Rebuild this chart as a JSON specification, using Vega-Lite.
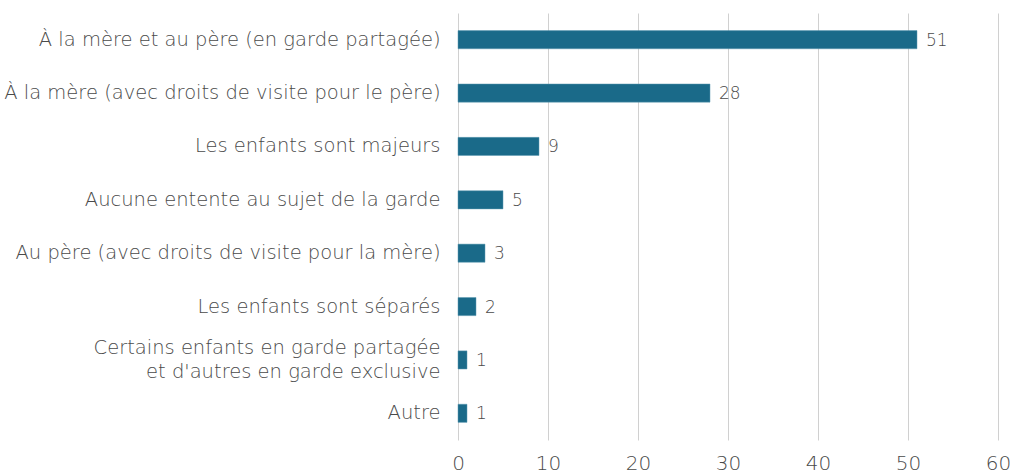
{
  "$schema": "https://vega.github.io/schema/vega-lite/v6.json",
  "width": 540,
  "height": 427,
  "autosize": "none",
  "padding": {"left": 458, "top": 13, "right": 15, "bottom": 34},
  "background": "white",
  "config": {
    "view": {"stroke": null},
    "font": "DejaVu Sans"
  },
  "data": {
    "values": [
      {"cat": "À la mère et au père (en garde partagée)", "v": 51},
      {"cat": "À la mère (avec droits de visite pour le père)", "v": 28},
      {"cat": "Les enfants sont majeurs ", "v": 9},
      {"cat": "Aucune entente au sujet de la garde", "v": 5},
      {"cat": "Au père (avec droits de visite pour la mère)", "v": 3},
      {"cat": "Les enfants sont séparés", "v": 2},
      {"cat": "Certains enfants en garde partagée |et d'autres en garde exclusive", "v": 1},
      {"cat": "Autre", "v": 1}
    ]
  },
  "encoding": {
    "y": {
      "field": "cat", "type": "nominal", "sort": null,
      "scale": {"paddingInner": 0.66, "paddingOuter": 0.33},
      "axis": {
        "title": null, "domain": false, "ticks": false, "labelPadding": 18,
        "labelFont": "DejaVu Sans", "labelFontSize": 19.5, "labelFontWeight": 300, "labelColor": "#4a4a4a",
        "labelLimit": 500, "labelExpr": "split(datum.label, '|')", "labelLineHeight": 24,
        "labelOffset": {"condition": {"test": "indexof(datum.value, '|') >= 0", "value": -12}, "value": 0}
      }
    },
    "x": {
      "field": "v", "type": "quantitative",
      "scale": {"domain": [0, 60], "nice": false},
      "axis": {
        "title": null, "domain": false, "ticks": false, "values": [0, 10, 20, 30, 40, 50, 60],
        "gridColor": "#d0d0d0", "gridWidth": 1, "labelPadding": 13,
        "labelFont": "DejaVu Sans", "labelFontSize": 20, "labelFontWeight": 300, "labelColor": "#4a4a4a",
        "labelFlush": false
      }
    }
  },
  "layer": [
    {"mark": {"type": "bar", "color": "#1a6a89", "stroke": "#5f9ab2", "strokeWidth": 0.5}},
    {"mark": {"type": "text", "align": "left", "dx": 9, "dy": 1, "font": "DejaVu Sans", "fontWeight": 300, "fontSize": 17, "color": "#4a4a4a"},
     "encoding": {"text": {"field": "v", "type": "quantitative"}}}
  ]
}
